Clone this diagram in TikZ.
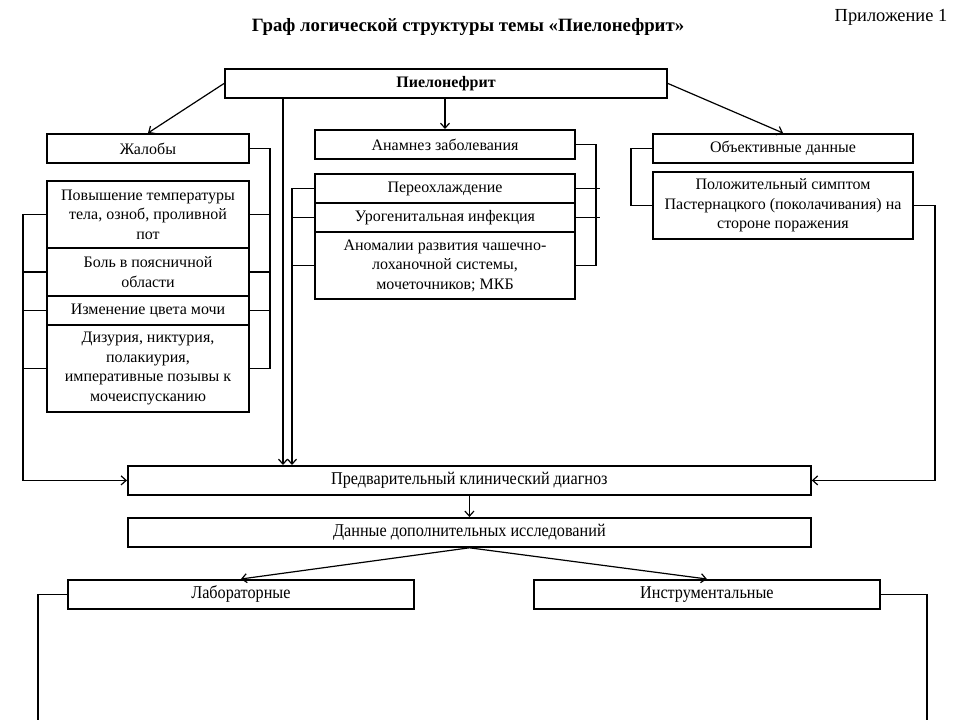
\documentclass[tikz,border=0pt]{standalone}
\usepackage{fontspec}
\setmainfont{Liberation Serif}
\newfontfamily\condfont{Liberation Serif}[FakeStretch=0.9]
\usetikzlibrary{arrows.meta}

\tikzset{
  box/.style={draw, line width=2pt, inner sep=0pt, align=center,
    anchor=north west, font=\fontsize{16}{19.5}\selectfont},
  lowbox/.style={box, line width=1.8pt, font=\condfont\fontsize{18}{20}\selectfont},
  link/.style={line width=1.2pt},
  >={Straight Barb[length=5pt,width=9pt]}
}

\begin{document}
\begin{tikzpicture}[x=1pt,y=-1pt]
  \useasboundingbox (0,0) rectangle (960,720);

  \node (title) at (468,27) {\bfseries\fontsize{18.8}{22}\selectfont
    Граф логической структуры темы «Пиелонефрит»};
  \node (appx) at (891,17) {\fontsize{18.4}{22}\selectfont Приложение 1};

  \node [box, minimum width=442pt, minimum height=29pt,
  font=\bfseries\fontsize{16}{19}\selectfont] (top) at (224,68) {Пиелонефрит};

  % complaints
  \node [box, minimum width=202pt, minimum height=29pt] (zhal) at (46,133) {Жалобы};
  \node [box, minimum width=202pt, minimum height=67pt] (s1) at (46,180)
  {Повышение температуры\\тела, озноб, проливной\\пот};
  \node [box, minimum width=202pt, minimum height=48pt] (s2) at (46,247)
  {Боль в поясничной\\области};
  \node [box, minimum width=202pt, minimum height=29pt] (s3) at (46,295)
  {Изменение цвета мочи};
  \node [box, minimum width=202pt, minimum height=87pt] (s4) at (46,324)
  {Дизурия, никтурия,\\полакиурия,\\императивные позывы к\\мочеиспусканию};

  % anamnesis
  \node [box, minimum width=260pt, minimum height=29pt] (anam) at (314,129)
  {Анамнез заболевания};
  \node [box, minimum width=260pt, minimum height=29pt] (m1) at (314,173)
  {Переохлаждение};
  \node [box, minimum width=260pt, minimum height=29pt] (m2) at (314,202)
  {Урогенитальная инфекция};
  \node [box, minimum width=260pt, minimum height=67pt] (m3) at (314,231)
  {Аномалии развития чашечно-\\лоханочной системы,\\мочеточников; МКБ};

  % objective data
  \node [box, minimum width=260pt, minimum height=29pt] (obj) at (652,133)
  {Объективные данные};
  \node [box, minimum width=260pt, minimum height=67pt] (pos) at (652,171)
  {Положительный симптом\\Пастернацкого (поколачивания) на\\стороне поражения};

  % lower part
  \node [lowbox, minimum width=683pt, minimum height=29pt] (diag) at (127,465)
  {Предварительный клинический диагноз};
  \node [lowbox, minimum width=683pt, minimum height=29pt] (extra) at (127,517)
  {Данные дополнительных исследований};
  \node [lowbox, minimum width=346pt, minimum height=29pt] (lab) at (67,579)
  {Лабораторные};
  \node [lowbox, minimum width=346pt, minimum height=29pt] (instr) at (533,579)
  {Инструментальные};

  \coordinate (tl) at (283,0);
  \coordinate (rb) at (270,0);
  \coordinate (lb) at (23,0);
  \coordinate (mrb) at (596,0);
  \coordinate (mtk) at (600,0);
  \coordinate (mlb) at (292,0);
  \coordinate (olb) at (631,0);
  \coordinate (orb) at (935,0);
  \coordinate (labend) at (38,720);
  \coordinate (instrend) at (927,720);

  \draw [link,->] (top.west) -- (zhal.north);
  \draw [link,->] (top.south -| anam.north) -- (anam.north);
  \draw [link,->] (top.east) -- (obj.north);
  \draw [link,->] (top.south -| tl) -- (diag.north -| tl);

  \draw [link] (zhal.east) -- (zhal.east -| rb) -- (s4.east -| rb) -- (s4.east);
  \foreach \s in {s1,s2,s3}
    \draw [link] (\s.east) -- (\s.east -| rb);
  \draw [link,->] (s1.west) -- (s1.west -| lb) -- (diag.west -| lb) -- (diag.west);
  \foreach \s in {s2,s3,s4}
    \draw [link] (\s.west) -- (\s.west -| lb);

  \draw [link] (anam.east) -- (anam.east -| mrb) -- (m3.east -| mrb) -- (m3.east);
  \foreach \s in {m1,m2}
    \draw [link] (\s.east) -- (\s.east -| mtk);
  \draw [link,->] (m1.west) -- (m1.west -| mlb) -- (diag.north -| mlb);
  \foreach \s in {m2,m3}
    \draw [link] (\s.west) -- (\s.west -| mlb);

  \draw [link] (obj.west) -- (obj.west -| olb) -- (pos.west -| olb) -- (pos.west);
  \draw [link,->] (pos.east) -- (pos.east -| orb) -- (diag.east -| orb) -- (diag.east);

  \draw [link,->] (diag.south) -- (extra.north);
  \draw [link,->] (extra.south) -- (lab.north);
  \draw [link,->] (extra.south) -- (instr.north);
  \draw [link] (lab.west) -| (labend);
  \draw [link] (instr.east) -| (instrend);
\end{tikzpicture}
\end{document}
